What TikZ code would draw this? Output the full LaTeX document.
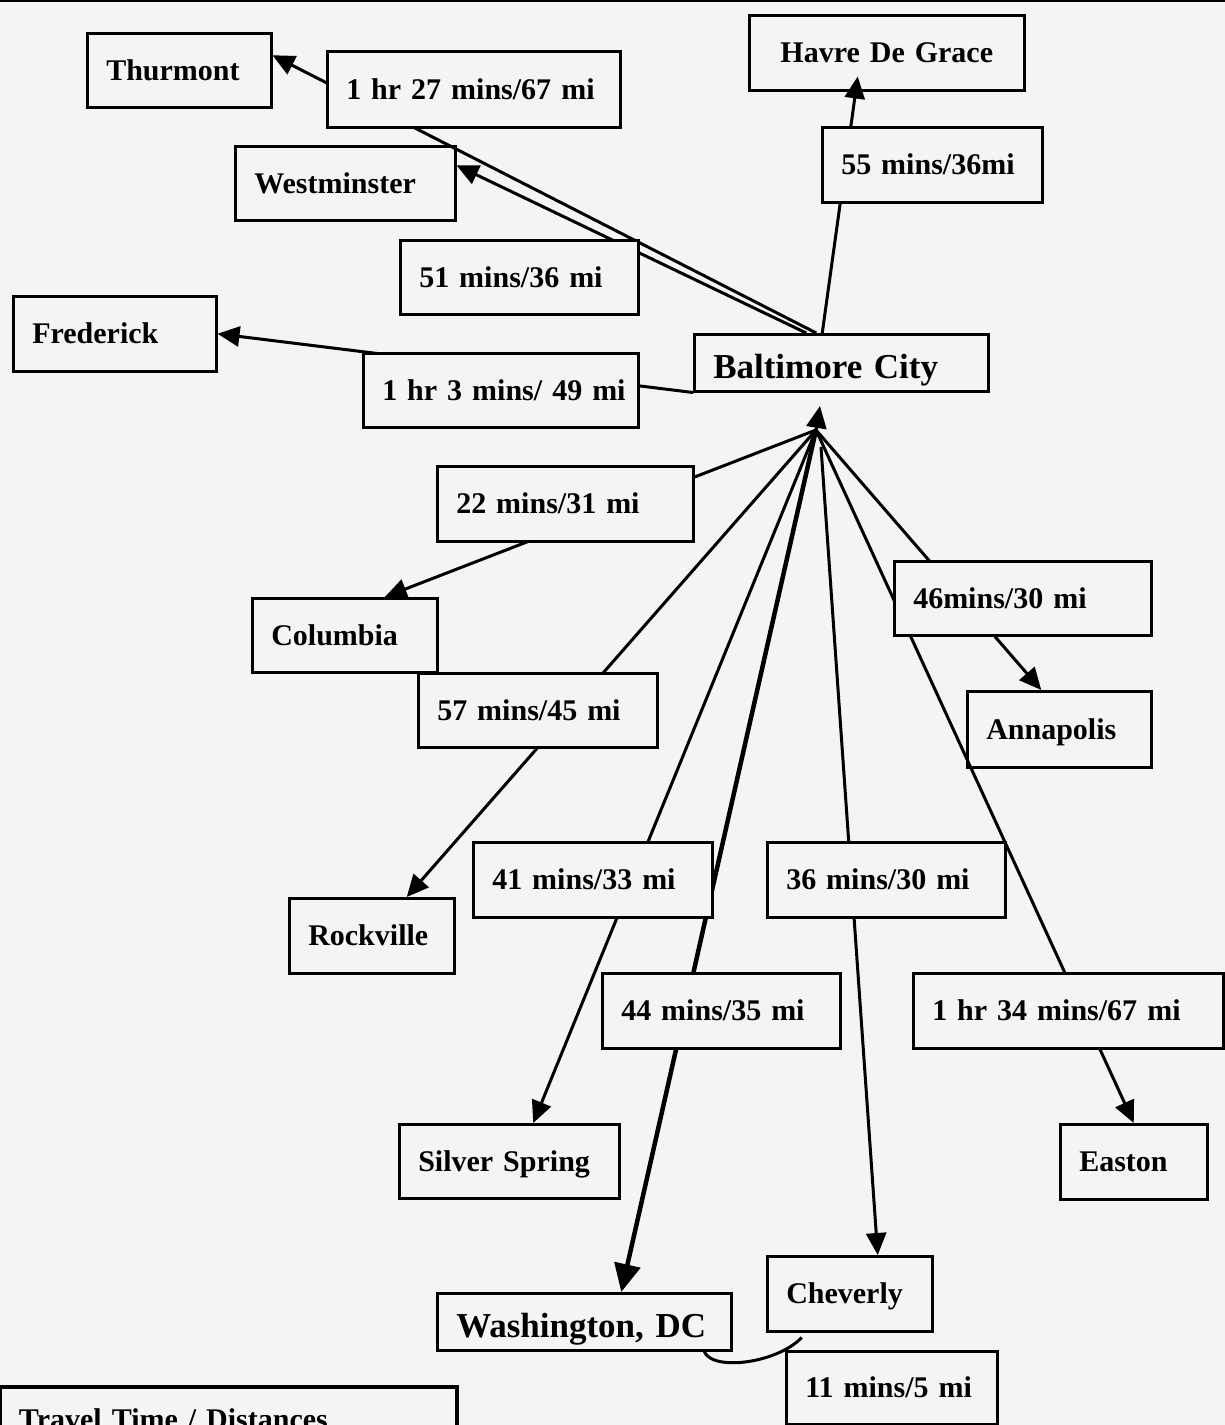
\documentclass[tikz,border=0pt]{standalone}
\usepackage{fontspec}
\setmainfont{Liberation Serif}
\usetikzlibrary{arrows.meta}
\definecolor{paper}{HTML}{F4F4F4}
\tikzset{
  box/.style={draw=black,line width=2.5pt,fill=paper,anchor=north west,
    inner xsep=19pt,inner ysep=0pt,align=left,text height=20pt,text depth=0pt,
    font=\bfseries\fontsize{30}{36}\selectfont},
  big/.style={text height=31pt,font=\bfseries\fontsize{35}{42}\selectfont},
  dims/.style 2 args={text width=\the\dimexpr#1pt-38pt\relax,minimum height=#2pt},
  link/.style={line width=3pt},
  arrow/.style={link,-{Triangle[length=22pt,width=20pt]}},
  bigarrow/.style={line width=4.5pt,-{Triangle[length=28pt,width=26pt]}}
}

\begin{document}
\begin{tikzpicture}[x=1pt,y=-1pt]
  \useasboundingbox[fill=paper] (0,0) rectangle (1225,1425);
  \clip (0,0) rectangle (1225,1425);
  \draw[line width=2pt] (0,1) -- (1225,1);
  % places
  \node[box,dims={184}{74}] (thurmont) at (86,32) {Thurmont};
  \node[box,dims={275}{75},align=center] (havre) at (748,14) {Havre De Grace};
  \node[box,dims={220}{74}] (westminster) at (234,145) {Westminster};
  \node[box,dims={203}{75}] (frederick) at (12,295) {Frederick};
  \node[box,big,dims={294}{57}] (baltimore) at (693,333) {Baltimore City};
  \node[box,dims={185}{74}] (columbia) at (251,597) {Columbia};
  \node[box,dims={184}{76}] (annapolis) at (966,690) {Annapolis};
  \node[box,dims={165}{75}] (rockville) at (288,897) {Rockville};
  \node[box,dims={220}{74}] (silver) at (398,1123) {Silver Spring};
  \node[box,dims={147}{75}] (easton) at (1059,1123) {Easton};
  \node[box,dims={165}{75}] (cheverly) at (766,1255) {Cheverly};
  \node[box,big,dims={294}{57}] (washington) at (436,1292) {Washington, DC};
  \coordinate (hub) at (816,430);
  \coordinate (hubtip) at (820,406);
  \coordinate (hubc) at (821,447);
  % routes
  \draw[arrow] ([xshift=-25pt]baltimore.north) -- ([yshift=15pt]thurmont.east);
  \draw[arrow] ([xshift=-35pt]baltimore.north) -- ([yshift=18pt]westminster.east);
  \draw[arrow] ([xshift=-19pt]baltimore.north) -- ([xshift=-29pt,yshift=15pt]havre.south);
  \draw[arrow] (baltimore.south west) -- (frederick.east);
  \draw[arrow] (hub) -- (hubtip);
  \draw[arrow] (hub) -- ([xshift=40pt]columbia.north);
  \draw[arrow] (hub) -- ([xshift=35pt]rockville.north);
  \draw[arrow] (hub) -- ([xshift=24pt]silver.north);
  \draw[bigarrow] (hub) -- ([xshift=37pt]washington.north);
  \draw[arrow] (hubc) -- ([xshift=28pt]cheverly.north);
  \draw[arrow] (hub) -- ([xshift=-18pt]annapolis.north);
  \draw[arrow] (hub) -- (easton.north);
  \draw[link] ([xshift=120pt]washington.south) .. controls +(8,20) and +(-25,26) .. ([xshift=-48pt,yshift=-5pt]cheverly.south);
  % times and distances
  \node[box,dims={293}{76}] (t27) at (326,50) {1 hr 27 mins/67 mi};
  \node[box,dims={220}{75}] (t55) at (821,126) {55 mins/36mi};
  \node[box,dims={238}{74}] (t51) at (399,239) {51 mins/36 mi};
  \node[box,dims={275}{74}] (t63) at (362,352) {\mbox{1 hr 3 mins/ 49 mi}};
  \node[box,dims={256}{75}] (t22) at (436,465) {22 mins/31 mi};
  \node[box,dims={257}{74}] (t46) at (893,560) {46mins/30 mi};
  \node[box,dims={239}{74}] (t57) at (417,672) {57 mins/45 mi};
  \node[box,dims={239}{75}] (t41) at (472,841) {41 mins/33 mi};
  \node[box,dims={238}{75}] (t36) at (766,841) {36 mins/30 mi};
  \node[box,dims={238}{75}] (t44) at (601,972) {44 mins/35 mi};
  \node[box,dims={310}{75}] (t134) at (912,972) {1 hr 34 mins/67 mi};
  \node[box,dims={211}{73}] (t11) at (785,1350) {11 mins/5 mi};
  % legend
  \node[box,line width=4pt,text width=419pt,inner ysep=21pt,text height=21pt] (legend) at (-2,1385) {Travel Time / Distances};
\end{tikzpicture}
\end{document}
